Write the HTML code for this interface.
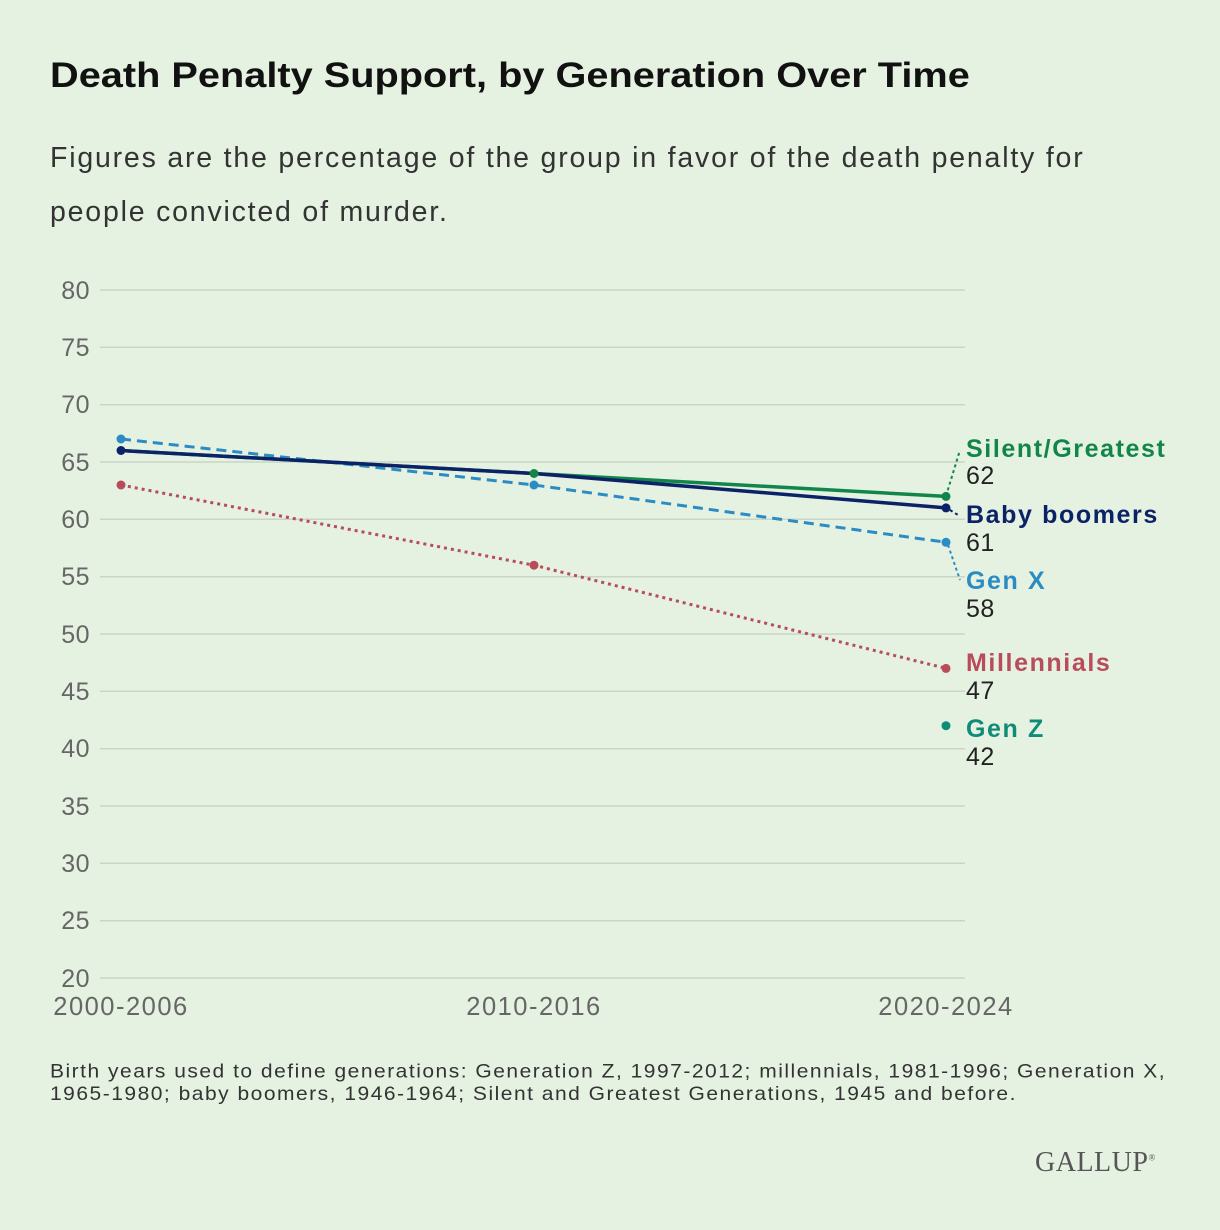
<!DOCTYPE html>
<html><head><style>
body{margin:0;width:1220px;height:1230px;background:#e5f1e1;font-family:"Liberation Sans",sans-serif;position:relative;overflow:hidden}
.t{position:absolute;left:50px;top:56px;font-size:35px;font-weight:bold;color:#111;transform-origin:0 0;transform:scaleX(1.135);white-space:nowrap}
.s{position:absolute;left:50px;top:131px;font-size:28.5px;line-height:54px;color:#333;width:1110px;letter-spacing:1.8px}
.f{position:absolute;left:50px;top:1061px;font-size:21px;line-height:24px;color:#333;width:1135px;letter-spacing:1.5px;transform-origin:0 0;transform:scaleY(0.93)}
.g{position:absolute;left:1035px;top:1147px;font-family:"Liberation Serif",serif;font-size:28px;color:#555;letter-spacing:0.5px}
</style></head><body>
<div class="t">Death Penalty Support, by Generation Over Time</div>
<div class="s">Figures are the percentage of the group in favor of the death penalty for people convicted of murder.</div>
<svg width="1220" height="1230" style="position:absolute;left:0;top:0" font-family="Liberation Sans, sans-serif">
<g stroke="#c9d6c5" stroke-width="1.5">
<line x1="100" x2="965" y1="290" y2="290"/><line x1="100" x2="965" y1="347.3" y2="347.3"/><line x1="100" x2="965" y1="404.7" y2="404.7"/><line x1="100" x2="965" y1="462" y2="462"/><line x1="100" x2="965" y1="519.3" y2="519.3"/><line x1="100" x2="965" y1="576.7" y2="576.7"/><line x1="100" x2="965" y1="634" y2="634"/><line x1="100" x2="965" y1="691.3" y2="691.3"/><line x1="100" x2="965" y1="748.7" y2="748.7"/><line x1="100" x2="965" y1="806" y2="806"/><line x1="100" x2="965" y1="863.3" y2="863.3"/><line x1="100" x2="965" y1="920.7" y2="920.7"/><line x1="100" x2="965" y1="978" y2="978"/>
</g>
<g font-size="25" fill="#666" text-anchor="end" letter-spacing="0.5">
<text x="90" y="299">80</text><text x="90" y="356">75</text><text x="90" y="413">70</text><text x="90" y="471">65</text><text x="90" y="528">60</text><text x="90" y="585">55</text><text x="90" y="643">50</text><text x="90" y="700">45</text><text x="90" y="757">40</text><text x="90" y="815">35</text><text x="90" y="872">30</text><text x="90" y="929">25</text><text x="90" y="987">20</text>
</g>
<g font-size="25.5" fill="#666" text-anchor="middle" letter-spacing="1.5">
<text x="121" y="1015">2000-2006</text><text x="534" y="1015">2010-2016</text><text x="946" y="1015">2020-2024</text>
</g>
<polyline points="121,485 534,565.2 946,668.4" fill="none" stroke="#b84c5a" stroke-width="3" stroke-dasharray="3,4"/>
<polyline points="121,439 534,485 946,542.3" fill="none" stroke="#2b8cc4" stroke-width="3" stroke-dasharray="10,6"/>
<polyline points="121,450.5 534,473.5 946,496.4" fill="none" stroke="#12864a" stroke-width="3.5"/>
<polyline points="121,450.5 534,473.5 946,507.9" fill="none" stroke="#0c2266" stroke-width="3.5"/>
<g fill="#b84c5a"><circle cx="121" cy="485" r="4.5"/><circle cx="534" cy="565.2" r="4.5"/><circle cx="946" cy="668.4" r="4.5"/></g>
<g fill="#2b8cc4"><circle cx="121" cy="439" r="4.5"/><circle cx="534" cy="485" r="4.5"/><circle cx="946" cy="542.3" r="4.5"/></g>
<g fill="#12864a"><circle cx="534" cy="473.5" r="4.5"/><circle cx="946" cy="496.4" r="4.5"/></g>
<g fill="#0c2266"><circle cx="121" cy="450.5" r="4.5"/><circle cx="946" cy="507.9" r="4.5"/></g>
<circle cx="946" cy="725.7" r="4.5" fill="#0e8c78"/>
<line x1="946" y1="496" x2="960" y2="450" stroke="#12864a" stroke-width="2" stroke-dasharray="3,3"/>
<line x1="950" y1="510" x2="958" y2="515" stroke="#0c2266" stroke-width="2" stroke-dasharray="3,3"/>
<line x1="948" y1="545" x2="960" y2="580" stroke="#2b8cc4" stroke-width="2" stroke-dasharray="3,3"/>
<g font-size="25" font-weight="bold" letter-spacing="1.6">
<text x="966" y="457" fill="#12864a">Silent/Greatest</text>
<text x="966" y="523" fill="#0c2266">Baby boomers</text>
<text x="966" y="589" fill="#2b8cc4">Gen X</text>
<text x="966" y="671" fill="#b84c5a">Millennials</text>
<text x="966" y="737" fill="#0e8c78">Gen Z</text>
</g>
<g font-size="25" fill="#222" letter-spacing="0.5">
<text x="966" y="484">62</text><text x="966" y="551">61</text><text x="966" y="617">58</text><text x="966" y="699">47</text><text x="966" y="765">42</text>
</g>
</svg>
<div class="f">Birth years used to define generations: Generation Z, 1997-2012; millennials, 1981-1996; Generation X, 1965-1980; baby boomers, 1946-1964; Silent and Greatest Generations, 1945 and before.</div>
<div class="g">GALLUP<sup style="font-size:9px">®</sup></div>
</body></html>
